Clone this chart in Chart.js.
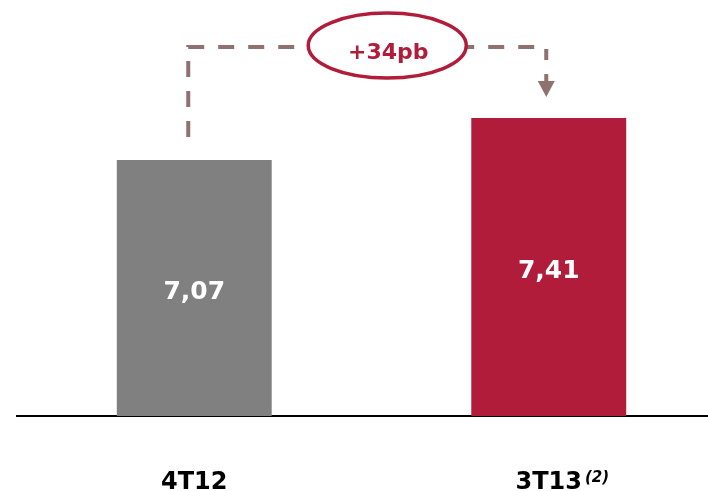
<!DOCTYPE html>
<html>
<head>
<meta charset="utf-8">
<script src="https://cdn.jsdelivr.net/npm/chart.js@4/dist/chart.umd.min.js"></script>
<style>
  html, body { margin: 0; padding: 0; background: #fff; }
  #wrap { width: 708px; height: 491px; overflow: hidden; position: relative; }
  #spreadChart { display: block; }
</style>
</head>
<body>
<div id="wrap">
  <canvas id="spreadChart" width="726" height="491"></canvas>
</div>
<script>
// --- data
const periods = ['4T12', '3T13'];
const periodNotes = ['', '(2)'];
const spreadValues = [7.07, 7.41];
const barColors = ['#808080', '#B01C3A'];
const changeLabel = '+34pb';

const FONT = '"DejaVu Sans", Verdana, sans-serif';
const CRIMSON = '#B01C3A';
const CONNECTOR = '#8F716F';

function fmt(v) {
    return v.toFixed(2).replace('.', ',');
}

// bar values, dashed connector with the change bubble, footnote marks
const overlayPlugin = {
    id: 'spreadOverlay',
    afterDraw(chart) {
        const c = chart.ctx;
        const xs = chart.scales.x;
        const ys = chart.scales.y;
        const bottom = chart.chartArea.bottom;

        // values in white at mid-height of each bar
        c.save();
        c.fillStyle = '#ffffff';
        c.font = 'bold 25px ' + FONT;
        c.textAlign = 'center';
        c.textBaseline = 'alphabetic';
        spreadValues.forEach((v, i) => {
            const top = ys.getPixelForValue(v);
            const mid = (top + bottom) / 2;
            c.fillText(fmt(v), xs.getPixelForValue(i), mid + 10.5);
        });
        c.restore();

        const ax = xs.getPixelForValue(0), ay = ys.getPixelForValue(spreadValues[0]);
        const bx = xs.getPixelForValue(1), by = ys.getPixelForValue(spreadValues[1]);
        const x1 = ax - 6, x2 = bx - 2.5;
        const yTop = by - 71;
        const tip = by - 21;

        c.save();
        c.strokeStyle = CONNECTOR;
        c.fillStyle = CONNECTOR;
        c.lineWidth = 4;
        c.setLineDash([16, 14]);
        c.beginPath();
        c.moveTo(x1, ay - 23);
        c.lineTo(x1, yTop);
        c.lineTo(x2, yTop);
        c.lineTo(x2, tip - 37);
        c.stroke();

        // arrow head
        c.setLineDash([]);
        c.beginPath();
        c.moveTo(x2, tip - 23);
        c.lineTo(x2, tip - 14);
        c.stroke();
        c.beginPath();
        c.moveTo(x2 - 8.5, tip - 16);
        c.lineTo(x2 + 8.5, tip - 16);
        c.lineTo(x2, tip);
        c.closePath();
        c.fill();

        // bubble
        const cx = x1 + 199, cy = yTop - 1.5;
        c.beginPath();
        c.ellipse(cx, cy, 79, 32.5, 0, 0, Math.PI * 2);
        c.fillStyle = '#fff';
        c.fill();
        c.lineWidth = 3.5;
        c.strokeStyle = CRIMSON;
        c.stroke();

        c.fillStyle = CRIMSON;
        c.font = 'bold 22px ' + FONT;
        c.textAlign = 'center';
        c.textBaseline = 'alphabetic';
        c.fillText(changeLabel, cx + 1, yTop + 12);
        c.restore();

        // footnote marks after the category labels
        c.save();
        periods.forEach((p, i) => {
            if (!periodNotes[i]) return;
            c.font = 'bold 24px ' + FONT;
            const w = c.measureText(p).width;
            const x = xs.getPixelForValue(i) + w / 2 + 3;
            c.font = 'italic bold 15px ' + FONT;
            c.fillStyle = '#000';
            c.textAlign = 'left';
            c.textBaseline = 'alphabetic';
            c.fillText(periodNotes[i], x, 482);
        });
        c.restore();
    }
};

const canvasCtx = document.getElementById('spreadChart').getContext('2d');
new Chart(canvasCtx, {
    type: 'bar',
    data: {
        labels: periods,
        datasets: [{
            data: spreadValues,
            backgroundColor: barColors,
            borderWidth: 0,
            barPercentage: 0.437,
            categoryPercentage: 1
        }]
    },
    options: {
        responsive: false,
        animation: false,
        layout: { padding: { top: 8, left: 17, right: 0, bottom: 0 } },
        scales: {
            x: {
                grid: { display: false, drawTicks: false },
                border: { display: true, color: '#000', width: 2 },
                ticks: {
                    color: '#000',
                    padding: 52,
                    font: { family: FONT, size: 24, weight: 'bold' }
                },
                afterFit: s => { s.height = 75; }
            },
            y: {
                display: false,
                min: 5,
                max: 8.3
            }
        },
        plugins: {
            legend: { display: false },
            tooltip: { enabled: false }
        }
    },
    plugins: [overlayPlugin]
});
</script>
</body>
</html>
